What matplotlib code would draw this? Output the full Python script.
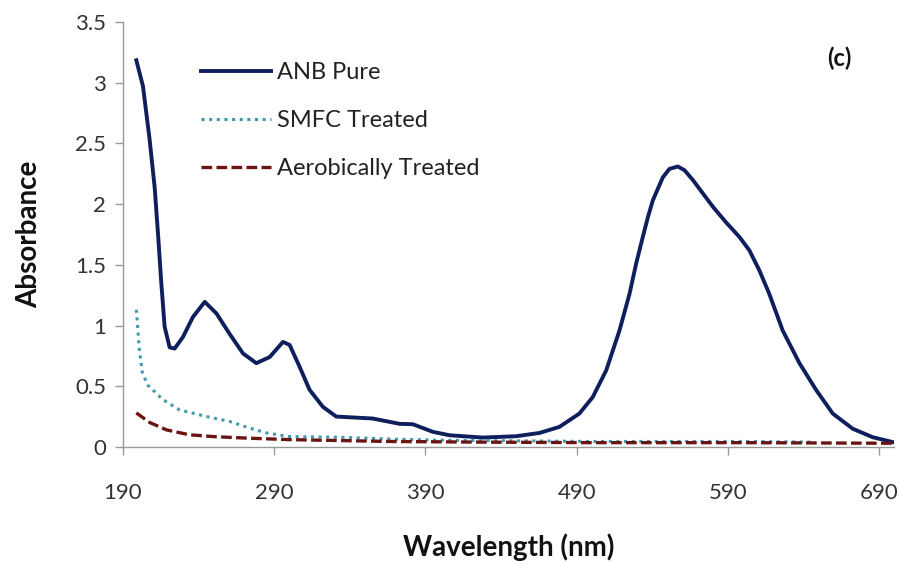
import numpy as np
import matplotlib
matplotlib.use("Agg")
import matplotlib.pyplot as plt

plt.rcParams['font.family'] = ['Lato', 'DejaVu Sans']

# ANB Pure
anb_x = [199.0, 203.4, 207.8, 211.1, 213.3, 215.5, 217.7, 221.0, 224.3, 229.8, 236.4, 244.2, 251.9,
         260.7, 269.5, 278.3, 287.1, 295.9, 300.3, 306.9, 313.5, 322.3, 331.1, 355.2, 373.0, 381.7,
         395.0, 406.0, 428.0, 450.0, 465.4, 478.6, 491.8, 500.6, 509.5, 518.3, 524.9, 529.3, 533.7,
         537.0, 540.3, 546.9, 551.3, 556.8, 561.2, 566.7, 573.3, 579.9, 588.7, 597.5, 604.1, 610.7,
         617.3, 626.1, 637.2, 648.2, 659.2, 672.4, 685.6, 698.8]
anb_y = [3.185, 2.97, 2.53, 2.14, 1.76, 1.35, 0.99, 0.82, 0.81, 0.905, 1.07, 1.195, 1.10,
         0.93, 0.77, 0.69, 0.74, 0.865, 0.84, 0.66, 0.47, 0.33, 0.25, 0.234, 0.19, 0.187,
         0.124, 0.096, 0.077, 0.088, 0.115, 0.165, 0.275, 0.41, 0.63, 0.96, 1.26, 1.51, 1.73,
         1.89, 2.03, 2.22, 2.29, 2.31, 2.28, 2.20, 2.09, 1.98, 1.85, 1.73, 1.62, 1.455,
         1.26, 0.96, 0.69, 0.47, 0.275, 0.15, 0.08, 0.04]

# SMFC Treated
smfc_x = [199, 201, 203, 206.5, 216.5, 227.5, 245.5, 260.5, 274, 285, 300, 333, 366, 400, 450, 500, 550, 600, 645]
smfc_y = [1.13, 0.80, 0.61, 0.51, 0.39, 0.305, 0.25, 0.21, 0.155, 0.115, 0.085, 0.08, 0.065, 0.055, 0.05, 0.045, 0.045, 0.045, 0.04]

# Aerobically Treated
aer_x = [199, 208, 219, 234, 250, 267, 300, 366, 420, 500, 600, 700]
aer_y = [0.28, 0.20, 0.14, 0.10, 0.085, 0.075, 0.06, 0.045, 0.04, 0.035, 0.035, 0.03]

xticks = [190, 290, 390, 490, 590, 690]
yticks = [0, 0.5, 1, 1.5, 2, 2.5, 3, 3.5]
ytick_labels = ['0', '0.5', '1', '1.5', '2', '2.5', '3', '3.5']

fig = plt.figure(figsize=(9.09, 5.65), dpi=100)
ax = fig.add_axes([0.135, 0.209, 0.849, 0.752])

ax.plot(anb_x, anb_y, color='#0f1f5e', lw=2.8, label='ANB Pure')
ax.plot(smfc_x, smfc_y, color='#3e9aaa', lw=2.2, ls=(0, (1, 1.5)), label='SMFC Treated')
ax.plot(aer_x, aer_y, color='#6a1414', lw=2.4, ls=(0, (3.2, 1.3)), label='Aerobically Treated')

ax.set_xlim(190, 700)
ax.set_ylim(0, 3.5)
ax.set_xticks(xticks)
ax.set_yticks(yticks)
ax.set_yticklabels(ytick_labels)
ax.tick_params(axis='both', labelsize=16, colors='#999999', labelcolor='#333333',
               length=6, width=1, direction='out')
ax.tick_params(axis='x', pad=20)
ax.tick_params(axis='y', pad=6)

for s in ['top', 'right']:
    ax.spines[s].set_visible(False)
for s in ['left', 'bottom']:
    ax.spines[s].set_color('#999999')
    ax.spines[s].set_linewidth(1.0)

ax.set_xlabel('Wavelength (nm)', fontsize=20, fontweight='bold', labelpad=22, color='#111111')
ax.set_ylabel('Absorbance', fontsize=20, fontweight='bold', labelpad=24, color='#111111')

fig.text(839 / 909, 1 - 58 / 565, '(c)', fontsize=17, fontweight='bold',
         ha='center', va='center', color='#111111')

leg = ax.legend(loc='upper left', bbox_to_anchor=(201 / 909, 1 - 62 / 565),
                bbox_transform=fig.transFigure, frameon=False, fontsize=17,
                borderaxespad=0, borderpad=0,
                handlelength=2.95, handletextpad=0.25, labelspacing=1.15)
for t in leg.get_texts():
    t.set_color('#222222')

fig.savefig('out.png', dpi=100)
